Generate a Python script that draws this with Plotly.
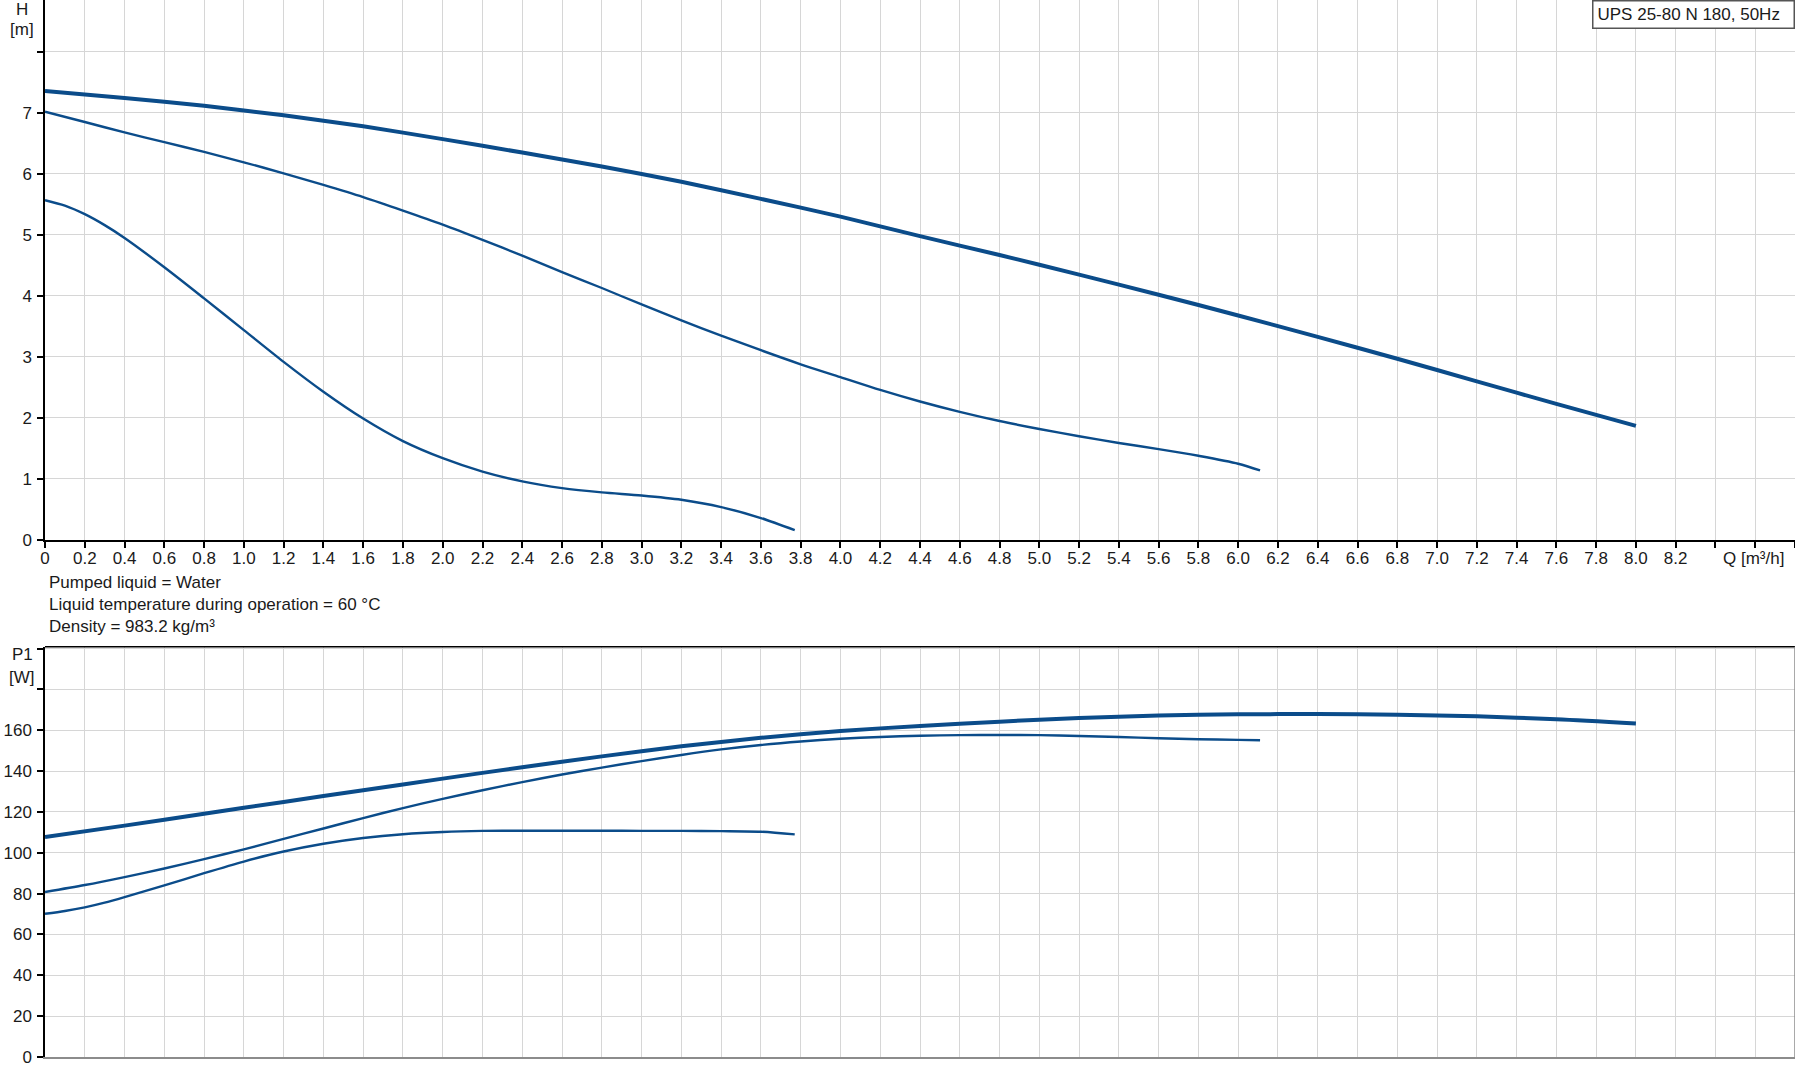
import plotly.graph_objects as go

# ---------------- data ----------------
q_max = [0, 0.4, 0.8, 1.2, 1.6, 2.0, 2.4, 2.8, 3.2, 3.6, 4.0, 4.4, 4.8, 5.2, 5.6, 6.0, 6.4, 6.8, 7.2, 7.6, 8.0]
h_max = [7.36, 7.245, 7.115, 6.96, 6.78, 6.57, 6.35, 6.12, 5.87, 5.59, 5.30, 4.98, 4.67, 4.35, 4.02, 3.68, 3.33, 2.97, 2.60, 2.23, 1.87]

q_mid = [0, 0.2, 0.4, 0.6, 0.8, 1.0, 1.2, 1.4, 1.6, 1.8, 2.0, 2.2, 2.4, 2.6, 2.8, 3.0, 3.2, 3.4, 3.6, 3.8, 4.0,
         4.2, 4.4, 4.6, 4.8, 5.0, 5.2, 5.4, 5.6, 5.8, 6.0, 6.11]
h_mid = [7.02, 6.85, 6.68, 6.52, 6.36, 6.19, 6.01, 5.82, 5.62, 5.40, 5.17, 4.92, 4.66, 4.39, 4.13, 3.86, 3.60, 3.35, 3.11, 2.88, 2.67,
         2.46, 2.27, 2.10, 1.95, 1.82, 1.70, 1.59, 1.49, 1.38, 1.25, 1.14]

q_min = [0, 0.1, 0.2, 0.3, 0.4, 0.6, 0.8, 1.0, 1.2, 1.4, 1.6, 1.8, 2.0, 2.2, 2.4, 2.6, 2.8, 3.0, 3.2, 3.4, 3.6, 3.77]
h_min = [5.57, 5.48, 5.34, 5.16, 4.95, 4.47, 3.96, 3.44, 2.92, 2.43, 1.99, 1.62, 1.34, 1.12, 0.96, 0.85, 0.78, 0.73, 0.66, 0.54, 0.36, 0.16]

p_max = [107.7, 113.3, 119.1, 124.9, 130.6, 136.3, 141.9, 147.2, 152.1, 156.3, 159.6, 162.1, 164.2, 166.0, 167.2, 167.8, 167.9, 167.6, 166.8, 165.4, 163.3]
p_mid = [80.8, 84.2, 88.1, 92.3, 96.9, 101.7, 106.8, 111.9, 117.0, 121.9, 126.4, 130.6, 134.6, 138.3, 141.7, 144.9, 147.9, 150.6, 152.8, 154.5, 155.8,
         156.7, 157.3, 157.6, 157.7, 157.6, 157.2, 156.7, 156.1, 155.6, 155.3, 155.1]
p_min = [70.1, 71.5, 73.3, 75.6, 78.3, 84.0, 90.0, 95.7, 100.6, 104.4, 107.2, 109.1, 110.2, 110.7, 110.8, 110.8, 110.8, 110.7, 110.7, 110.6, 110.3, 109.0]

x_ticks = [round(0.2 * i, 1) for i in range(45)]
x_labels = ["0"] + [f"{v:.1f}" for v in x_ticks[1:42]] + ["", "", ""]
h_ticks = [0, 1, 2, 3, 4, 5, 6, 7, 8]
h_labels = ["0", "1", "2", "3", "4", "5", "6", "7", ""]
p_ticks = [0, 20, 40, 60, 80, 100, 120, 140, 160, 180, 200]
p_labels = ["0", "20", "40", "60", "80", "100", "120", "140", "160", "", ""]

title_text = "UPS 25-80 N 180, 50Hz"
info_lines = ["Pumped liquid = Water", "Liquid temperature during operation = 60 °C", "Density = 983.2 kg/m³"]

# ---------------- figure ----------------
BLUE = "#0b4c8a"
GRID = "#d6d6d6"
FONT = "Arial, Liberation Sans, sans-serif"
FS = 17

fig = go.Figure()

def add_curve(x, y, width, axis):
    fig.add_trace(go.Scatter(x=x, y=y, mode="lines", line=dict(color=BLUE, width=width, shape="spline", smoothing=0.8),
                             xaxis="x" if axis == 1 else "x2", yaxis="y" if axis == 1 else "y2",
                             hoverinfo="skip", showlegend=False))

add_curve(q_max, h_max, 4, 1)
add_curve(q_mid, h_mid, 2.4, 1)
add_curve(q_min, h_min, 2.4, 1)
add_curve(q_max, p_max, 4, 2)
add_curve(q_mid, p_mid, 2.4, 2)
add_curve(q_min, p_min, 2.4, 2)

PLOT_H = 1081 - 24
upper_bottom = 1 - 540 / PLOT_H
lower_top = (PLOT_H - 646.7) / PLOT_H

def py(px):  # paper y from pixel row
    return (PLOT_H - px) / PLOT_H

txtfont = dict(family=FONT, size=FS, color="#1a1a1a")

fig.update_layout(
    width=1795, height=1081,
    margin=dict(l=45, r=0, t=0, b=24),
    paper_bgcolor="white", plot_bgcolor="white",
    font=txtfont,
    xaxis=dict(domain=[0, 1], range=[0, 8.8], anchor="y", tickmode="array", tickvals=x_ticks, ticktext=x_labels,
               showgrid=True, gridcolor=GRID, gridwidth=1, showline=True, linecolor="black", linewidth=1.5,
               ticks="outside", ticklen=6, tickcolor="black", tickwidth=1.5, tickfont=txtfont, zeroline=False,
               ticklabelstandoff=-4),
    yaxis=dict(domain=[upper_bottom, 1], range=[0, 8.85], anchor="x", tickmode="array", tickvals=h_ticks, ticktext=h_labels,
               showgrid=True, gridcolor=GRID, gridwidth=1, showline=True, linecolor="black", linewidth=1.5,
               ticks="outside", ticklen=6, tickcolor="black", tickwidth=1.5, tickfont=txtfont, zeroline=False,
               ticklabelstandoff=2),
    xaxis2=dict(domain=[0, 1], range=[0, 8.8], anchor="y2", tickmode="array", tickvals=x_ticks,
                showticklabels=False, ticks="", showgrid=True, gridcolor=GRID, gridwidth=1,
                showline=True, linecolor="#8c8c8c", linewidth=1.5, zeroline=False),
    yaxis2=dict(domain=[0, lower_top], range=[0, 200.9], anchor="x2", tickmode="array", tickvals=p_ticks, ticktext=p_labels,
                showgrid=True, gridcolor=GRID, gridwidth=1, showline=True, linecolor="black", linewidth=1.5,
                ticks="outside", ticklen=6, tickcolor="black", tickwidth=1.5, tickfont=txtfont, zeroline=False,
                ticklabelstandoff=2),
)

# lower plot frame: black top, grey right
fig.add_shape(type="line", xref="x2 domain", yref="y2 domain", x0=0, x1=1, y0=1, y1=1,
              line=dict(color="black", width=1.5))
fig.add_shape(type="line", xref="x2 domain", yref="y2 domain", x0=1, x1=1, y0=0, y1=1,
              line=dict(color="#8c8c8c", width=1.5))

# axis titles
for txt, ypx in [("H", 10), ("[m]", 30), ("P1", 655), ("[W]", 677)]:
    fig.add_annotation(text=txt, xref="paper", yref="paper", x=-23 / 1750, y=py(ypx), xanchor="center", yanchor="middle",
                       showarrow=False, font=txtfont)
fig.add_annotation(text="Q [m³/h]", xref="paper", yref="y domain", x=1 - 9 / 1750, y=0, yshift=-7, xanchor="right", yanchor="top",
                   showarrow=False, font=txtfont)

# info text
fig.add_annotation(text="<br>".join(info_lines), xref="paper", yref="y domain", x=2 / 1750, y=0, yshift=-31,
                   xanchor="left", yanchor="top", align="left", showarrow=False, font=txtfont)

# title box
fig.add_annotation(text=title_text, xref="paper", yref="paper", x=1, y=1, xanchor="right", yanchor="top",
                   width=192, height=18, align="left", valign="middle",
                   showarrow=False, bgcolor="white", bordercolor="#555555", borderwidth=1.5, borderpad=4,
                   font=txtfont)

fig.write_html("out.html", config={"displayModeBar": False},
               post_script="document.body.style.margin='0';document.body.style.overflow='hidden';")
